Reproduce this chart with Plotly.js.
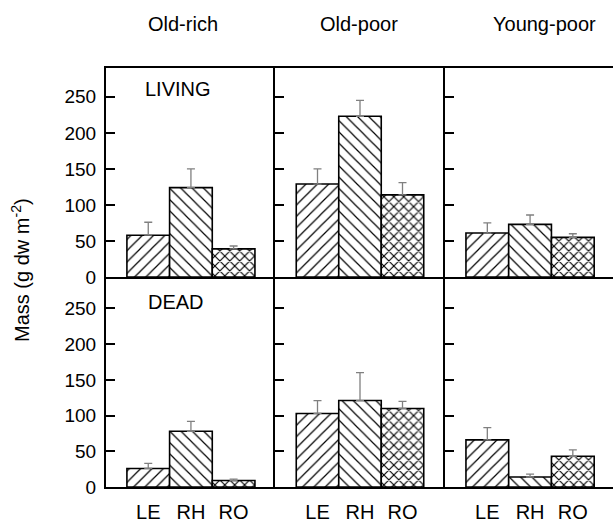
<!DOCTYPE html>
<html>
<head>
<meta charset="utf-8">
<script src="https://cdn.plot.ly/plotly-3.0.1.min.js"></script>
<style>html,body{margin:0;padding:0;background:#fff}#chart{width:613px;height:525px}</style>
</head>
<body>
<div id="chart"></div>
<script>
// ---- data ----
const categories = ['LE', 'RH', 'RO'];
const sites = ['Old-rich', 'Old-poor', 'Young-poor'];
const rowLabels = ['LIVING', 'DEAD'];

const livingOldRich     = [58, 124, 39];
const livingOldRichSE   = [18, 26, 4];
const livingOldPoor     = [129, 223, 114];
const livingOldPoorSE   = [21, 22, 17];
const livingYoungPoor   = [61, 73, 55];
const livingYoungPoorSE = [14, 13, 5];

const deadOldRich       = [26, 78, 9];
const deadOldRichSE     = [7, 14, 2];
const deadOldPoor       = [103, 121, 110];
const deadOldPoorSE     = [18, 39, 10];
const deadYoungPoor     = [66, 14, 43];
const deadYoungPoorSE   = [17, 4, 9];

const yTickVals = [0, 50, 100, 150, 200, 250];

// ---- build ----
const W = 613, H = 525;
const FONT = 'Arial, "Liberation Sans", Helvetica, sans-serif';
const patternShapes = ['/', '\\', 'x'];

const panels = [
  {v: livingOldRich,   e: livingOldRichSE},
  {v: livingOldPoor,   e: livingOldPoorSE},
  {v: livingYoungPoor, e: livingYoungPoorSE},
  {v: deadOldRich,     e: deadOldRichSE},
  {v: deadOldPoor,     e: deadOldPoorSE},
  {v: deadYoungPoor,   e: deadYoungPoorSE}
];

const colPx = [[106, 275], [275, 445], [445, 613]];
const rowPx = [[68, 277], [277, 487]];
const xRanges = [[-0.99, 2.97], [-1.0, 3.0], [-0.99, 2.94]];
const yRanges = [[0, 290], [0, 294]];

const traces = [];
const layout = {
  width: W, height: H,
  margin: {l: 0, r: 0, t: 0, b: 0},
  paper_bgcolor: '#fff', plot_bgcolor: '#fff',
  showlegend: false,
  bargap: 0,
  font: {family: FONT, color: '#000'},
  annotations: []
};

panels.forEach((p, i) => {
  const r = Math.floor(i / 3), c = i % 3;
  const n = i + 1;
  const xa = n === 1 ? 'x' : 'x' + n;
  const ya = n === 1 ? 'y' : 'y' + n;
  traces.push({
    type: 'bar',
    x: categories,
    y: p.v,
    xaxis: xa, yaxis: ya,
    marker: {
      color: '#fff',
      line: {color: '#000', width: 1.6},
      pattern: {shape: patternShapes, size: [8, 8, 7], solidity: [0.15, 0.15, 0.3], fgcolor: '#000', bgcolor: '#fff', fillmode: 'replace'}
    },
    error_y: {
      type: 'data', symmetric: false, array: p.e, arrayminus: [0, 0, 0],
      color: '#808080', thickness: 1.3, width: 4
    },
    hoverinfo: 'skip'
  });
  const xKey = n === 1 ? 'xaxis' : 'xaxis' + n;
  const yKey = n === 1 ? 'yaxis' : 'yaxis' + n;
  layout[xKey] = {
    domain: [colPx[c][0] / W, colPx[c][1] / W],
    anchor: ya,
    type: 'category',
    range: xRanges[c],
    showline: true, linecolor: '#000', linewidth: 2,
    mirror: r === 0,
    ticks: '', showgrid: false, zeroline: false,
    showticklabels: r === 1,
    tickfont: {size: 20, family: FONT, color: '#000'},
    ticklabelstandoff: 6,
    fixedrange: true
  };
  layout[yKey] = {
    domain: [1 - rowPx[r][1] / H, 1 - rowPx[r][0] / H],
    anchor: xa,
    range: yRanges[r],
    tickvals: yTickVals,
    showline: true, linecolor: '#000', linewidth: 2,
    mirror: false,
    ticks: 'inside', ticklen: 9, tickwidth: 2, tickcolor: '#000',
    showgrid: false, zeroline: false,
    showticklabels: c === 0,
    tickfont: {size: 19, family: FONT, color: '#000'},
    ticklabelstandoff: 4,
    fixedrange: true
  };
});

// column titles
const colTitleX = [183, 359, 544];
sites.forEach((s, k) => {
  layout.annotations.push({
    text: s, xref: 'paper', yref: 'paper',
    x: colTitleX[k] / W, y: 1 - 24 / H,
    xanchor: 'center', yanchor: 'middle', showarrow: false,
    font: {size: 20, family: FONT, color: '#000'}
  });
});
// row labels
const rowLabelPos = [[178, 89], [176, 302]];
rowLabels.forEach((s, k) => {
  layout.annotations.push({
    text: s, xref: 'paper', yref: 'paper',
    x: rowLabelPos[k][0] / W, y: 1 - rowLabelPos[k][1] / H,
    xanchor: 'center', yanchor: 'middle', showarrow: false,
    font: {size: 20, family: FONT, color: '#000'}
  });
});
// y title
layout.annotations.push({
  text: 'Mass (g dw m<sup>-2</sup>)', xref: 'paper', yref: 'paper',
  x: 20 / W, y: 1 - 270 / H, textangle: -90,
  xanchor: 'center', yanchor: 'middle', showarrow: false,
  font: {size: 20, family: FONT, color: '#000'}
});

Plotly.newPlot('chart', traces, layout, {staticPlot: true, displayModeBar: false});
</script>
</body>
</html>
